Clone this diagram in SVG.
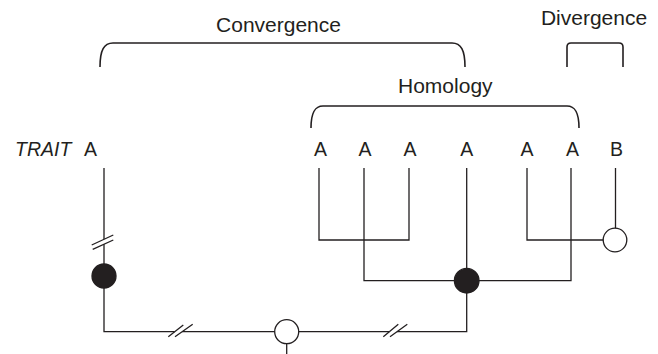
<svg xmlns="http://www.w3.org/2000/svg" width="658" height="354" viewBox="0 0 658 354">
<style>
.ln{fill:none;stroke:#231f20;stroke-width:1.3}
.br{fill:none;stroke:#231f20;stroke-width:1.6}
.t{font-family:"Liberation Sans",Arial,sans-serif;fill:#231f20;font-size:19.5px;text-anchor:middle}
.lb{font-family:"Liberation Sans",Arial,sans-serif;fill:#231f20;font-size:21px;text-anchor:middle}
.filled{fill:#231f20;stroke:#231f20;stroke-width:1.3}
.open{fill:#fff;stroke:#231f20;stroke-width:1.3}
</style>
<rect width="658" height="354" fill="#fff"/>
<g id="brackets">
<g id="convergence">
<path class="br" d="M100,67 C100,50 104,43 113,43 H452 C461,43 465,50 465,67"/>
<text class="lb" x="278.5" y="31.7">Convergence</text>
</g>
<g id="homology">
<path class="br" d="M311,128 C311,112 315,106 323,106 H567 C575,106 579,112 579,128"/>
<text class="lb" x="445.3" y="93">Homology</text>
</g>
<g id="divergence">
<path class="br" d="M567,67 V47 Q567,43 571,43 H619 Q623,43 623,47 V67"/>
<text class="lb" x="594" y="25">Divergence</text>
</g>
</g>
<g id="tips">
<g id="tip0"><text class="t" x="15" y="156" style="text-anchor:start;font-style:italic">TRAIT</text><text class="t" x="90.5" y="156">A</text></g>
<g id="tip1"><text class="t" x="320.5" y="156">A</text></g>
<g id="tip2"><text class="t" x="365" y="156">A</text></g>
<g id="tip3"><text class="t" x="410" y="156">A</text></g>
<g id="tip4"><text class="t" x="466.7" y="156">A</text></g>
<g id="tip5"><text class="t" x="527" y="156">A</text></g>
<g id="tip6"><text class="t" x="572.5" y="156">A</text></g>
<g id="tip7"><text class="t" x="616.5" y="156">B</text></g>
</g>
<g id="connectors">
<path class="ln" d="M104,168 V239.3 M104,244.2 V331.7 H174.7 M182.1,331.7 H389.4 M397,331.7 H466.7 V168"/>
<path class="ln" d="M91.7,245 L113.3,235 M92.7,249.3 L113.3,240"/>
<path class="ln" d="M168.3,336.7 L183.3,325 M175,336.7 L192.7,324.3"/>
<path class="ln" d="M383.3,336.7 L398.3,324.3 M390,336.7 L407.3,324.3"/>
<path class="ln" d="M319,168 V240 H409 V168"/>
<path class="ln" d="M364,168 V280.7 H571 V168"/>
<path class="ln" d="M527,168 V240 H615"/>
<path class="ln" d="M615.5,168 V240"/>
<path class="ln" d="M286.7,331.7 V354"/>
</g>
<g id="node-gain-left"><circle class="filled" cx="104" cy="276" r="12"/></g>
<g id="node-gain-right"><circle class="filled" cx="466.7" cy="280.7" r="12.3"/></g>
<g id="node-root"><circle class="open" cx="286.7" cy="331.7" r="12"/></g>
<g id="node-loss"><circle class="open" cx="615" cy="240" r="11.8"/></g>
</svg>
